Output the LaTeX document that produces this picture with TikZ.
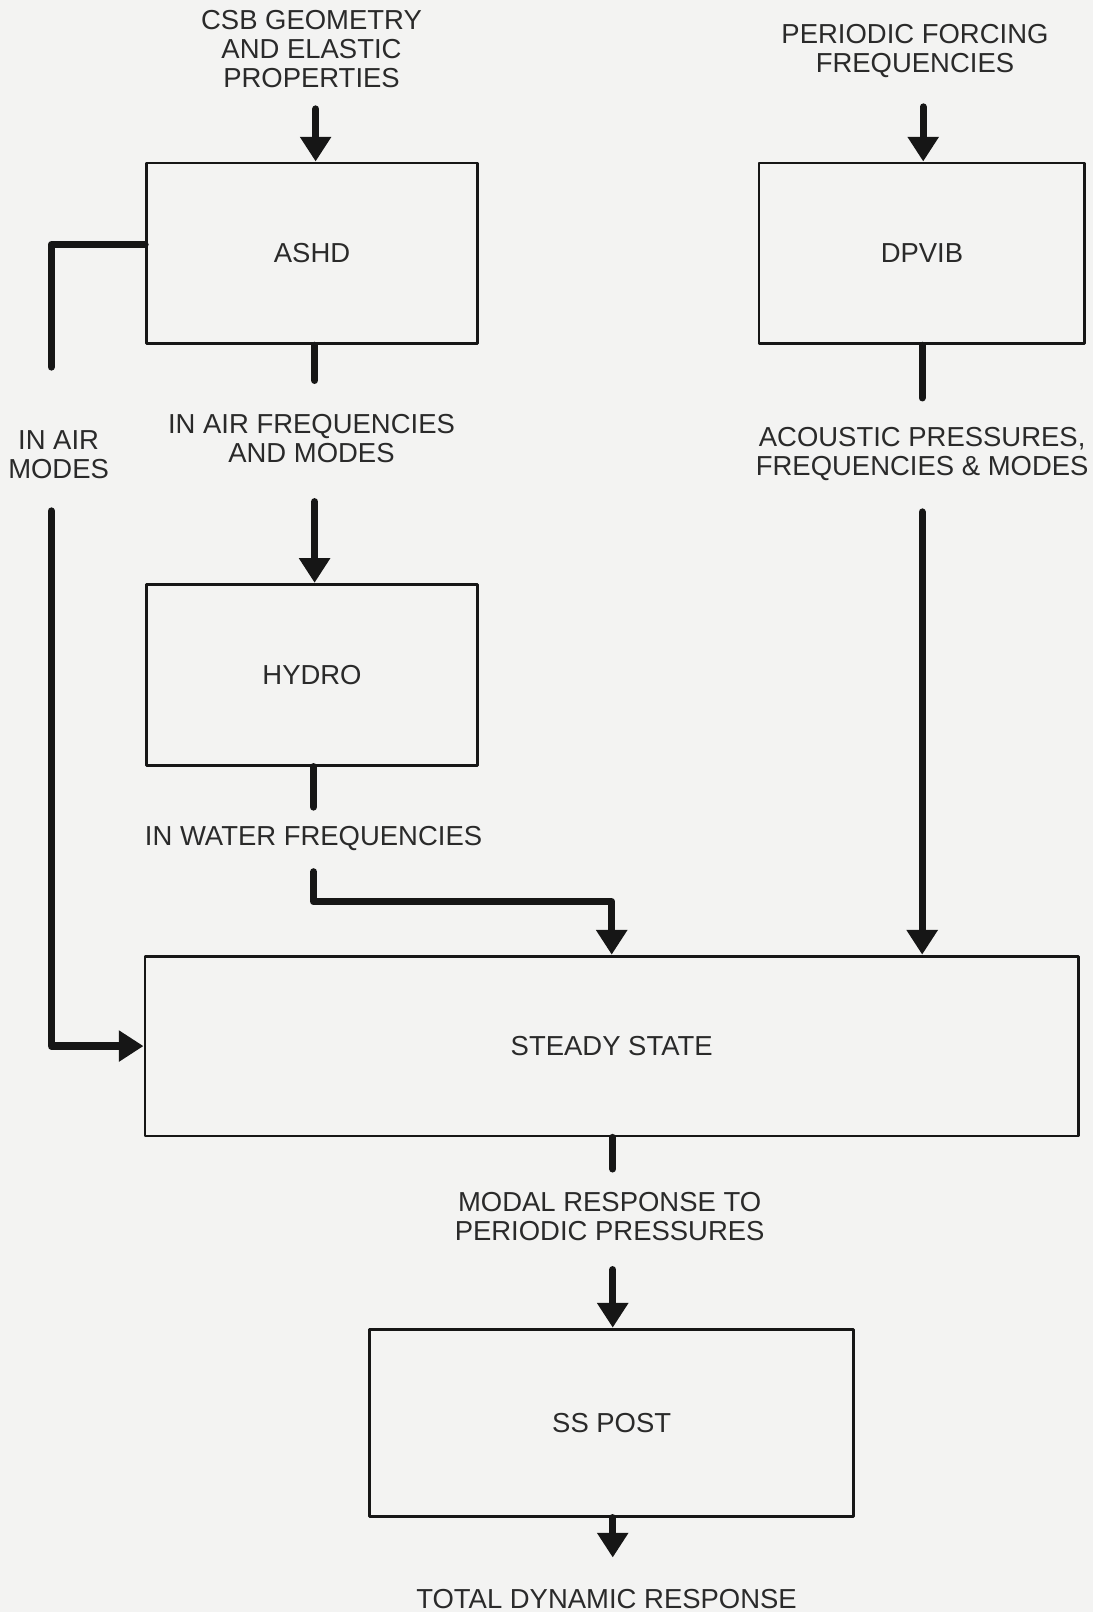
\documentclass[tikz,border=0pt]{standalone}
\usepackage{fontspec}
\setmainfont{Liberation Sans}
\usepackage{tikz}
\usetikzlibrary{positioning,arrows.meta}
\definecolor{bgcol}{HTML}{F3F3F2}
\definecolor{inkcol}{HTML}{161616}
\definecolor{txtcol}{HTML}{2A2A2A}

\begin{document}
\begin{tikzpicture}[line join=round,
        box node/.style={rectangle, draw=inkcol, line width=4pt, fill=bgcol,
        inner sep=0pt, minimum width=16.1cm, minimum height=8.8cm, text=txtcol,
        font=\fontsize{38}{40}\selectfont},
        text node/.style={align=center, inner sep=0pt, text=txtcol,
        font=\fontsize{38}{40}\selectfont},
        stub/.style={draw=inkcol, line width=10pt, line cap=round},
        flow/.style={stub, -{Triangle[width=1.45cm,length=1.2cm]}}
        ]

        \fill [bgcol] (0,0) rectangle (53.15,-78.4);
        \useasboundingbox (0,0) rectangle (53.15,-78.4);

        % boxes
        \node [box node] (ashd) at (15.175,-12.325) {ASHD} ;
        \node [box node, minimum width=15.85cm] (dpvib) [right = 13.55cm of ashd] {DPVIB} ;
        \node [box node] (hydro) [below = 11.55cm of ashd] {HYDRO} ;
        \node [box node, minimum width=45.4cm, minimum height=8.75cm] (steady) at (29.75,-50.875) {STEADY STATE} ;
        \node [box node, minimum width=23.55cm, minimum height=9.1cm] (sspost) [below = 9.25cm of steady] {SS POST} ;

        % texts
        \node [text node] (csb) at (15.15,-2.4) {CSB GEOMETRY\\AND ELASTIC\\PROPERTIES} ;
        \node [text node] (forcing) at (44.5,-2.5) {PERIODIC FORCING\\FREQUENCIES} ;
        \node [text node] (airfreq) at (15.15,-21.35) {IN AIR FREQUENCIES\\AND MODES} ;
        \node [text node] (airmodes) at (2.85,-22.1) {IN AIR\\MODES} ;
        \node [text node] (acoustic) at (44.85,-22.1) {ACOUSTIC PRESSURES,\\FREQUENCIES \& MODES} ;
        \node [text node] (water) at (15.25,-40.8) {IN WATER FREQUENCIES} ;
        \node [text node] (modal) at (29.65,-59.15) {MODAL RESPONSE TO\\PERIODIC PRESSURES} ;
        \node [text node] (total) at (29.5,-77.75) {TOTAL DYNAMIC RESPONSE} ;

        \coordinate (csbin) at (15.35,-5.3) ;
        \coordinate (forcin) at (44.9,-5.2) ;
        \coordinate (ashdout) at (15.3,-18.5) ;
        \coordinate (hydroin) at (15.3,-24.4) ;
        \coordinate (hydroout) at (15.25,-39.25) ;
        \coordinate (waterin) at (15.25,-42.4) ;
        \coordinate (airtop) at (2.5,-17.85) ;
        \coordinate (airbot) at (2.5,-24.85) ;
        \coordinate (dpvibout) at (44.85,-19.35) ;
        \coordinate (acousin) at (44.85,-24.9) ;
        \coordinate (steadyout) at (29.8,-56.85) ;
        \coordinate (modalin) at (29.8,-61.75) ;
        \coordinate (totalin) at (29.8,-75.75) ;

        \path
        (csbin) edge [flow] (csbin |- ashd.north)
        (forcin) edge [flow] (forcin |- dpvib.north)
        (ashdout |- ashd.south) edge [stub] (ashdout)
        (hydroin) edge [flow] (hydroin |- hydro.north)
        (hydroout |- hydro.south) edge [stub] (hydroout)
        (dpvibout |- dpvib.south) edge [stub] (dpvibout)
        (acousin) edge [flow] (acousin |- steady.north)
        (steadyout |- steady.south) edge [stub] (steadyout)
        (modalin) edge [flow] (modalin |- sspost.north)
        (totalin |- sspost.south) edge [flow] (totalin)
        ;

        \draw [stub] ([yshift=0.425cm]ashd.west) -| (airtop) ;
        \draw [flow] (airbot) |- (steady.west) ;
        \draw [flow] (waterin) -- ++(0,-1.45) -| (steady.north) ;
     \end{tikzpicture}
\end{document}
